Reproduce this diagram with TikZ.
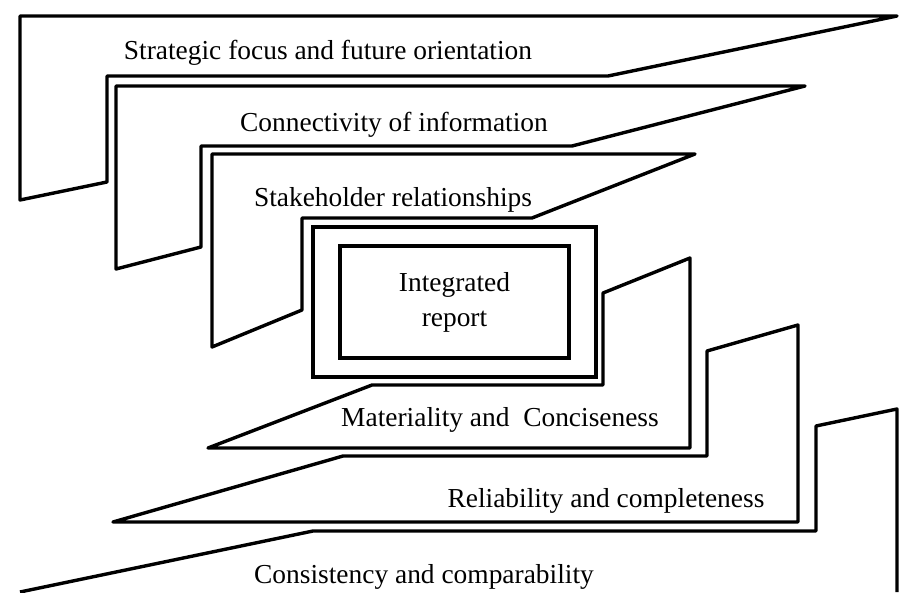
\documentclass[tikz,border=0pt]{standalone}
\usepackage{fontspec}
\setmainfont{Liberation Serif}

\begin{document}
\begin{tikzpicture}[x=0.025cm,y=-0.025cm]
\useasboundingbox (0,0) rectangle (900,592);

% layered frames
\begin{scope}[line width=0.085cm, line join=round]
    \draw (20,16) -- (897,16) -- (608,76) -- (107,76) -- (107,182) -- (20,200) -- cycle;
    \draw (116,86) -- (805,86) -- (572,146) -- (201,146) -- (201,247) -- (116,269) -- cycle;
    \draw (212,154) -- (695,154) -- (532,218) -- (302,218) -- (302,310) -- (212,347) -- cycle;

    \draw (208,448) -- (372,385) -- (603,385) -- (603,293) -- (690,258) -- (690,448) -- cycle;
    \draw (113,522) -- (343,456) -- (707,456) -- (707,351) -- (798,325) -- (798,522) -- cycle;
    \draw (20,592) -- (313,531) -- (816,531) -- (816,426) -- (897,409) -- (897,592);
\end{scope}

\begin{scope}[every node/.style={font=\fontsize{19.5}{23}\selectfont, inner sep=0pt}]
    \node (strategic)    at (328,53)  {Strategic focus and future orientation};
    \node (connectivity) at (394,125) {Connectivity of information};
    \node (stakeholder)  at (393,200) {Stakeholder relationships};
    \node (materiality)  at (500,420) {Materiality and \ Conciseness};
    \node (reliability)  at (606,501) {Reliability and completeness};
    \node (consistency)  at (424,577) {Consistency and comparability};
\end{scope}

% centre box
\begin{scope}[every node/.style={rectangle, draw, line width=0.085cm}]
    \node (frame)  at (454.5,302) [minimum width=283*0.025cm, minimum height=150*0.025cm] {};
    \node (report) at (454.5,302) [minimum width=229*0.025cm, minimum height=112*0.025cm,
        align=center, font=\fontsize{19.5}{25}\selectfont] {Integrated\\report};
\end{scope}
\end{tikzpicture}
\end{document}
